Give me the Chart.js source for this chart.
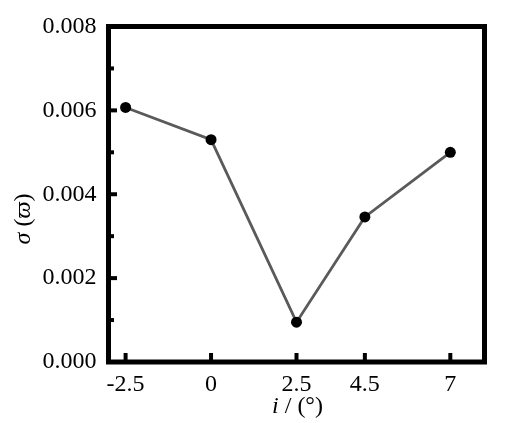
<!DOCTYPE html>
<html>
<head>
<meta charset="utf-8">
<script src="https://cdn.jsdelivr.net/npm/chart.js@4/dist/chart.umd.min.js"></script>
<style>
html,body{margin:0;padding:0;background:#fff;}
#wrap{width:511px;height:423px;}
</style>
</head>
<body>
<div id="wrap"><canvas id="c" width="511" height="423"></canvas></div>
<script>
const xValues = [-2.5, 0, 2.5, 4.5, 7];
const sigmaValues = [0.00607, 0.00530, 0.00095, 0.00346, 0.00500];
const xTickValues = [-2.5, 0, 2.5, 4.5, 7];
const xTickLabels = ['-2.5', '0', '2.5', '4.5', '7'];
const yMajorTicks = [0, 0.002, 0.004, 0.006, 0.008];
const yMinorTicks = [0.001, 0.003, 0.005, 0.007];
const xTitleParts = [['i', true], [' / (\u00B0)', false]];
const yTitleParts = [['\u03C3', true], [' (', false], ['\u03D6', true], [')', false]];

const FONT = '"Liberation Serif", "Times New Roman", serif';

function drawParts(ctx, parts, cx, cy) {
  const fontFor = it => (it ? 'italic ' : '') + '24px ' + FONT;
  let total = 0;
  const widths = parts.map(([t, it]) => { ctx.font = fontFor(it); const w = ctx.measureText(t).width; total += w; return w; });
  let x = cx - total / 2;
  ctx.textBaseline = 'middle';
  ctx.textAlign = 'left';
  ctx.fillStyle = '#000';
  parts.forEach(([t, it], i) => { ctx.font = fontFor(it); ctx.fillText(t, x, cy); x += widths[i]; });
}

const framePlugin = {
  id: 'frame',
  afterDraw(chart) {
    const ctx = chart.ctx;
    const a = chart.chartArea;
    const xs = chart.scales.x, ys = chart.scales.y;
    ctx.save();
    ctx.strokeStyle = '#000';
    ctx.lineCap = 'butt';
    ctx.lineJoin = 'miter';
    ctx.lineWidth = 4;
    yMajorTicks.forEach(v => {
      const p = ys.getPixelForValue(v);
      ctx.beginPath(); ctx.moveTo(a.left, p); ctx.lineTo(a.left + 8.5, p); ctx.stroke();
    });
    yMinorTicks.forEach(v => {
      const p = ys.getPixelForValue(v);
      ctx.beginPath(); ctx.moveTo(a.left, p); ctx.lineTo(a.left + 5.5, p); ctx.stroke();
    });
    xTickValues.forEach(v => {
      const p = xs.getPixelForValue(v);
      ctx.beginPath(); ctx.moveTo(p, a.bottom); ctx.lineTo(p, a.bottom - 9); ctx.stroke();
    });
    ctx.lineWidth = 5;
    ctx.strokeRect(a.left, a.top, a.right - a.left, a.bottom - a.top);
    drawParts(ctx, xTitleParts, (a.left + a.right) / 2 + 1, 407);
    ctx.save();
    ctx.translate(24, 219);
    ctx.rotate(-Math.PI / 2);
    drawParts(ctx, yTitleParts, 0, 0);
    ctx.restore();
    ctx.restore();
  }
};

new Chart(document.getElementById('c'), {
  type: 'line',
  data: {
    datasets: [{
      data: xValues.map((x, i) => ({ x: x, y: sigmaValues[i] })),
      borderColor: '#5a5a5a',
      borderWidth: 2.8,
      pointRadius: 5.5,
      pointHoverRadius: 5.5,
      pointBackgroundColor: '#000',
      pointBorderColor: '#000',
      pointBorderWidth: 0,
      tension: 0,
      fill: false
    }]
  },
  options: {
    responsive: false,
    animation: false,
    devicePixelRatio: 1,
    layout: { padding: { top: 26.5, right: 26.5, left: 0, bottom: 0 } },
    plugins: { legend: { display: false }, tooltip: { enabled: false } },
    scales: {
      x: {
        type: 'linear',
        min: -3,
        max: 8,
        grid: { display: false, drawTicks: false },
        border: { display: false },
        afterBuildTicks: s => { s.ticks = xTickValues.map(v => ({ value: v })); },
        afterFit: s => { s.height = 61; },
        ticks: {
          padding: 8,
          color: '#000',
          maxRotation: 0,
          autoSkip: false,
          font: { family: FONT, size: 24 },
          callback: (v) => { const i = xTickValues.indexOf(v); return i >= 0 ? xTickLabels[i] : ''; }
        }
      },
      y: {
        min: 0,
        max: 0.008,
        grid: { display: false, drawTicks: false },
        border: { display: false },
        afterBuildTicks: s => { s.ticks = yMajorTicks.map(v => ({ value: v })); },
        afterFit: s => { s.width = 108.5; },
        ticks: {
          padding: 12,
          color: '#000',
          font: { family: FONT, size: 24 },
          callback: v => v.toFixed(3)
        }
      }
    }
  },
  plugins: [framePlugin]
});
</script>
</body>
</html>
